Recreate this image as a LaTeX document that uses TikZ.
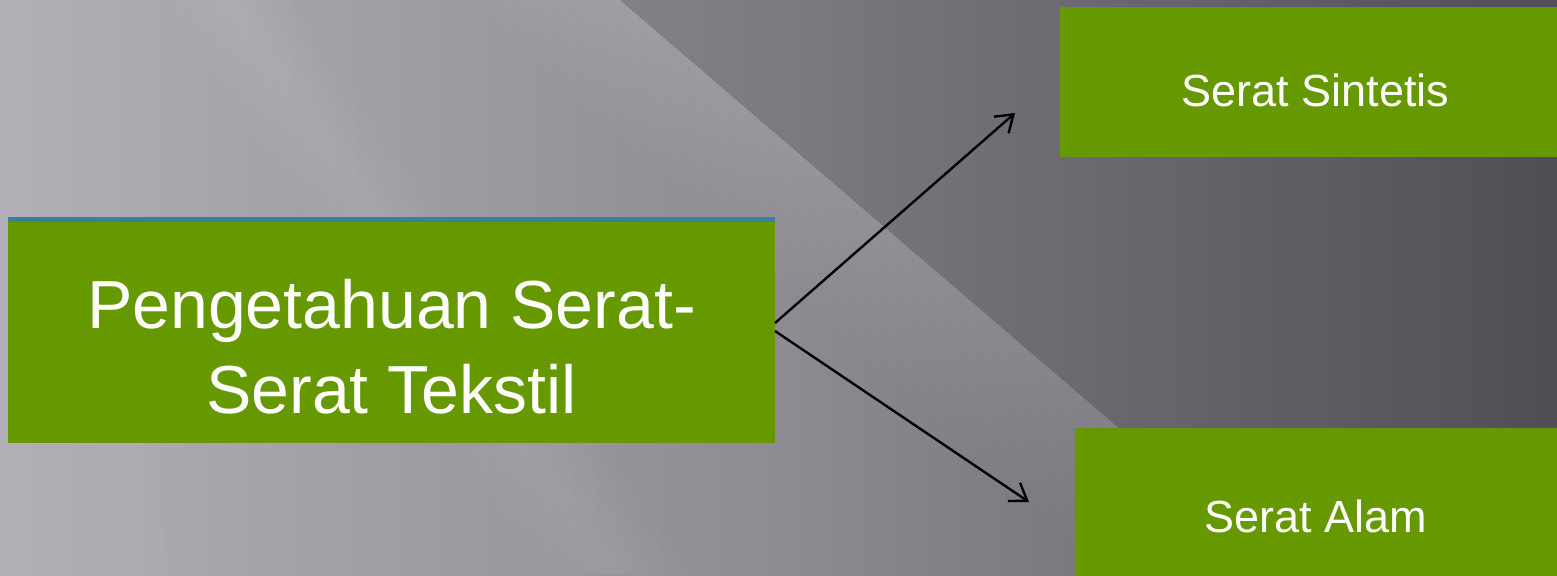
\documentclass[tikz,border=0pt]{standalone}
\usepackage{fontspec}
\setmainfont{Liberation Sans}
\usetikzlibrary{arrows.meta,calc}
\definecolor{boxgreen}{HTML}{669900}
\definecolor{stripteal}{HTML}{31849B}
\definecolor{bgleft}{HTML}{B2B0B6}
\definecolor{bgmid}{HTML}{8E8C92}
\definecolor{bgright}{HTML}{5C5A60}
\tikzset{
  greenbox/.style={fill=boxgreen, inner sep=0pt, outer sep=0pt, text=white, anchor=north west},
  link/.style={line width=1.2pt, draw=black, -{Straight Barb[length=8pt,width=11pt]}}
}
\begin{document}
\begin{tikzpicture}[x=0.5pt,y=-0.5pt]
\useasboundingbox (0,0) rectangle (1557,575);
\clip (0,0) rectangle (1557,575);
% background
\shade[left color=bgleft, right color=bgright, middle color=bgmid] (0,0) rectangle (1557,575);
\fill[black, opacity=0.12] (620,0) -- (1557,0) -- (1557,575) -- (1290,575) -- cycle;
\foreach \d in {0,15,...,150}
  \fill[white, opacity=0.013] ({470+\d},0) -- (620,0) -- (1290,575) -- ({1110+1.2*\d},575) -- cycle;
\foreach \d in {0,10,...,60}
  \fill[white, opacity=0.014] ({170+\d},0) -- ({290-\d},0) -- ({690-1.25*\d},575) -- ({540+1.25*\d},575) -- cycle;
\foreach \d in {0,10,...,50}
  \fill[white, opacity=0.012] (0,0) -- ({70-\d},0) -- ({170-\d},575) -- (0,575) -- cycle;
% boxes
\node[greenbox] (main) at (8,217)
  {\parbox[c][113pt][t]{383.5pt}{\centering\fontsize{34}{42.5}\selectfont\rule{0pt}{55.5pt}Pengetahuan Serat-\\Serat Tekstil}};
\fill[stripteal] (main.north west) rectangle ($(main.north east)+(0,5)$);
\node[greenbox] (sint) at (1060,7)
  {\parbox[c][75pt][t]{255.5pt}{\centering\fontsize{22.5}{27}\selectfont\rule{0pt}{49.5pt}Serat Sintetis}};
\node[greenbox] (alam) at (1075,428)
  {\parbox[c][75pt][t]{241pt}{\centering\fontsize{22.5}{27}\selectfont\rule{0pt}{52pt}Serat Alam}};
% connectors
\coordinate (tipS) at (1015,113);
\coordinate (tipA) at (1029,502);
\draw[link] ($(main.east)+(0,-7)$) -- (tipS);
\draw[link] ($(main.east)+(0,1)$) -- (tipA);
\end{tikzpicture}
\end{document}
